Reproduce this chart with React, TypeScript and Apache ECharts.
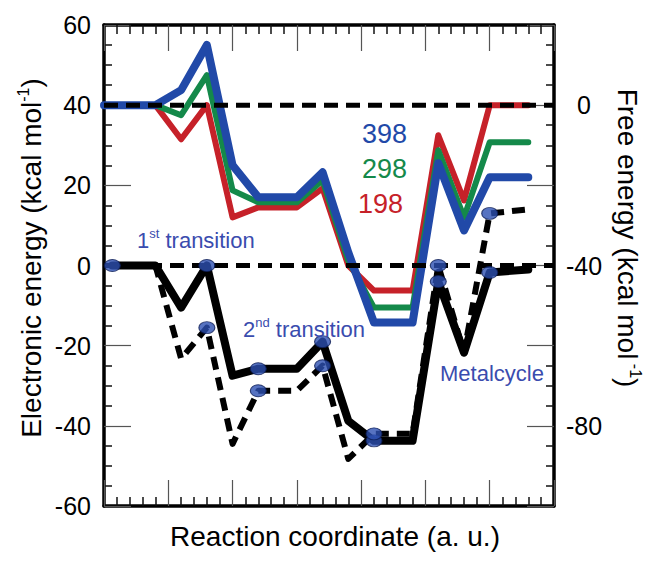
import React, { useEffect, useRef } from "react";
import * as echarts from "echarts";

// ---- data ----
const xFree = [0, 0.8, 1.2, 1.6, 2.0, 2.4, 3.0, 3.4, 3.8, 4.2, 4.8, 5.2, 5.6, 6.0, 6.6];
const xElectronic = [0.13, 0.8, 1.2, 1.6, 2.0, 2.4, 3.0, 3.4, 3.8, 4.2, 4.8, 5.2, 5.6, 6.0, 6.6];

// Free energy (right axis, kcal/mol)
const free398 = [0, 0, 3.75, 15, -15, -23, -23, -16.75, -36.75, -54.25, -54.25, -14.5, -31.25, -18, -18];
const free298 = [0, 0, -2.5, 7.5, -21.25, -24.25, -24.25, -18.75, -38.75, -50.5, -50.5, -11.25, -28, -9.25, -9.25];
const free198 = [0, 0, -8.5, 0, -28, -25.5, -25.5, -20.75, -40, -46.25, -46.25, -7.5, -23.75, 0, 0];

// Electronic energy (left axis, kcal/mol)
const electronicSolid = [0, 0, -10.5, 0, -27.5, -25.75, -25.75, -19, -38.75, -43.75, -43.75, -4, -21.75, -1.75, -1];
const electronicDashed = [0, 0, -23.25, -15.5, -44.5, -31.25, -31.25, -25, -48.25, -42, -42, 0, -21.75, 13, 14];

const solidMarkerIdx = [0, 3, 5, 7, 9, 11, 13];
const dashedMarkerIdx = [3, 5, 7, 9, 11, 13];

const referenceLevels = [40, 0]; // left-axis values of the dashed reference lines
const rightLabelValues = [0, -40, -80];

const temps = ["398", "298", "198"];

const FONT = "Liberation Sans, Arial, Helvetica, sans-serif";
const BLUE = "#2149a8";
const GREEN = "#14894a";
const RED = "#c62129";
const TEXT_BLUE = "#3a4cae";

const pairs = (xs: number[], ys: number[]) => ys.map((y, i) => [xs[i], y]);

export default function App() {
  const ref = useRef<HTMLDivElement>(null);
  useEffect(() => {
    if (!ref.current) return;
    const chart = echarts.init(ref.current, null, { renderer: "svg" });

    const ellipse = "path://M0,1a1,1 0 1,0 2,0a1,1 0 1,0 -2,0z";
    const markerData = [
      ...solidMarkerIdx.map((i) => [xElectronic[i], electronicSolid[i]]),
      ...dashedMarkerIdx.map((i) => [xElectronic[i], electronicDashed[i]]),
    ];

    const xAxisBase = {
      type: "value",
      min: 0,
      max: 7,
      interval: 1,
      axisLine: { show: true, onZero: false, lineStyle: { color: "#000", width: 3.5 } },
      axisTick: { show: true, inside: true, length: 26, lineStyle: { color: "#555", width: 1.2 } },
      minorTick: { show: true, splitNumber: 5, length: 9, lineStyle: { color: "#111", width: 1.5 } },
      axisLabel: { show: false },
      splitLine: { show: false },
      minorSplitLine: { show: false },
    };

    const yTick = { show: true, inside: true, length: 27, lineStyle: { color: "#555", width: 1.2 } };
    const yMinor = { show: true, splitNumber: 4, length: 8, lineStyle: { color: "#111", width: 1.5 } };

    const freeSeries = [free398, free298, free198].map((vals, k) => ({
      type: "line",
      name: temps[k],
      yAxisIndex: 1,
      data: pairs(xFree, vals),
      symbol: "none",
      showSymbol: false,
      z: 4 - k,
      lineStyle: {
        color: [BLUE, GREEN, RED][k],
        width: [8, 6, 6][k],
        join: "round",
        cap: "round",
      },
    }));

    const refSeries = referenceLevels.map((lvl) => ({
      type: "line",
      yAxisIndex: 0,
      data: [
        [0, lvl],
        [7, lvl],
      ],
      symbol: "none",
      showSymbol: false,
      z: 8,
      lineStyle: { color: "#000", width: 5, type: [14, 8], cap: "butt" },
    }));

    const option = {
      animation: false,
      backgroundColor: "#fff",
      grid: { left: 104, right: 91, top: 25, bottom: 57, containLabel: false },
      xAxis: [
        { ...xAxisBase, position: "bottom" },
        { ...xAxisBase, position: "top" },
      ],
      yAxis: [
        {
          type: "value",
          position: "left",
          min: -60,
          max: 60,
          interval: 20,
          axisLine: { show: true, onZero: false, lineStyle: { color: "#000", width: 3.5 } },
          axisTick: yTick,
          minorTick: yMinor,
          axisLabel: { show: true, color: "#000", fontSize: 25, fontFamily: FONT, margin: 13 },
          splitLine: { show: false },
        },
        {
          type: "value",
          position: "right",
          min: -100,
          max: 20,
          interval: 20,
          axisLine: { show: true, onZero: false, lineStyle: { color: "#000", width: 3.5 } },
          axisTick: yTick,
          minorTick: yMinor,
          axisLabel: {
            show: true,
            color: "#000",
            fontSize: 25,
            fontFamily: FONT,
            margin: 30,
            align: "center",
            formatter: (v: number) => (rightLabelValues.includes(v) ? String(v) : ""),
          },
          splitLine: { show: false },
        },
      ],
      series: [
        ...freeSeries,
        {
          type: "line",
          name: "Electronic (dashed)",
          yAxisIndex: 0,
          data: pairs(xElectronic, electronicDashed),
          symbol: "none",
          showSymbol: false,
          z: 5,
          lineStyle: { color: "#000", width: 6, type: [13, 8], join: "round", cap: "butt" },
        },
        {
          type: "line",
          name: "Electronic",
          yAxisIndex: 0,
          data: pairs(xElectronic, electronicSolid),
          symbol: "none",
          showSymbol: false,
          z: 6,
          lineStyle: { color: "#000", width: 8, join: "round", cap: "round" },
        },
        ...refSeries,
        {
          type: "scatter",
          yAxisIndex: 0,
          data: markerData,
          symbol: ellipse,
          symbolSize: [16, 12],
          z: 10,
          itemStyle: { color: "#2d50b2", borderColor: "#0d1d55", borderWidth: 1 },
        },
      ],
      graphic: [
        {
          type: "text",
          x: 31,
          y: 258,
          rotation: Math.PI / 2,
          style: {
            text: "{a|Electronic energy (kcal mol}{s|-1}{a|)}",
            align: "center",
            verticalAlign: "middle",
            textAlign: "center",
            textVerticalAlign: "middle",
            fill: "#000",
            rich: {
              a: { fontSize: 28, fontFamily: FONT, fill: "#000", lineHeight: 32 },
              s: { fontSize: 16, fontFamily: FONT, fill: "#000", lineHeight: 16, verticalAlign: "top" },
            },
          },
        },
        {
          type: "text",
          x: 627,
          y: 238,
          rotation: -Math.PI / 2,
          style: {
            text: "{a|Free energy (kcal mol}{s| -1}{a|)}",
            align: "center",
            verticalAlign: "middle",
            textAlign: "center",
            textVerticalAlign: "middle",
            fill: "#000",
            rich: {
              a: { fontSize: 28, fontFamily: FONT, fill: "#000", lineHeight: 32 },
              s: { fontSize: 16, fontFamily: FONT, fill: "#000", lineHeight: 16, verticalAlign: "top" },
            },
          },
        },
        {
          type: "text",
          x: 335,
          y: 536,
          style: {
            text: "Reaction coordinate (a. u.)",
            font: `28px ${FONT}`,
            fontSize: 28,
            fontFamily: FONT,
            align: "center",
            verticalAlign: "middle",
            textAlign: "center",
            textVerticalAlign: "middle",
            fill: "#000",
          },
        },
        ...temps.map((t, k) => ({
          type: "text",
          x: [362, 362, 358][k],
          y: [134, 169, 204][k],
          z: 20,
          style: {
            text: t,
            fontSize: 27,
            fontFamily: FONT,
            font: `27px ${FONT}`,
            align: "left",
            verticalAlign: "middle",
            textAlign: "left",
            textVerticalAlign: "middle",
            fill: [BLUE, GREEN, RED][k],
          },
        })),
        {
          type: "text",
          x: 137,
          y: 240,
          z: 20,
          style: {
            text: "{a|1}{s|st}{a| transition}",
            align: "left",
            verticalAlign: "middle",
            textAlign: "left",
            textVerticalAlign: "middle",
            rich: {
              a: { fontSize: 22, fontFamily: FONT, fill: TEXT_BLUE, lineHeight: 26 },
              s: { fontSize: 13, fontFamily: FONT, fill: TEXT_BLUE, lineHeight: 13, verticalAlign: "top" },
            },
          },
        },
        {
          type: "text",
          x: 243,
          y: 329,
          z: 20,
          style: {
            text: "{a|2}{s|nd}{a| transition}",
            align: "left",
            verticalAlign: "middle",
            textAlign: "left",
            textVerticalAlign: "middle",
            rich: {
              a: { fontSize: 22, fontFamily: FONT, fill: TEXT_BLUE, lineHeight: 26 },
              s: { fontSize: 13, fontFamily: FONT, fill: TEXT_BLUE, lineHeight: 13, verticalAlign: "top" },
            },
          },
        },
        {
          type: "text",
          x: 440,
          y: 373,
          z: 20,
          style: {
            text: "Metalcycle",
            fontSize: 22,
            fontFamily: FONT,
            font: `22px ${FONT}`,
            align: "left",
            verticalAlign: "middle",
            textAlign: "left",
            textVerticalAlign: "middle",
            fill: TEXT_BLUE,
          },
        },
      ],
    };

    chart.setOption(option as any);
    return () => chart.dispose();
  }, []);

  return (
    <div style={{ position: "fixed", left: 0, top: 0, width: 645, height: 563, background: "#fff" }}>
      <div ref={ref} style={{ width: 645, height: 563 }} />
    </div>
  );
}
